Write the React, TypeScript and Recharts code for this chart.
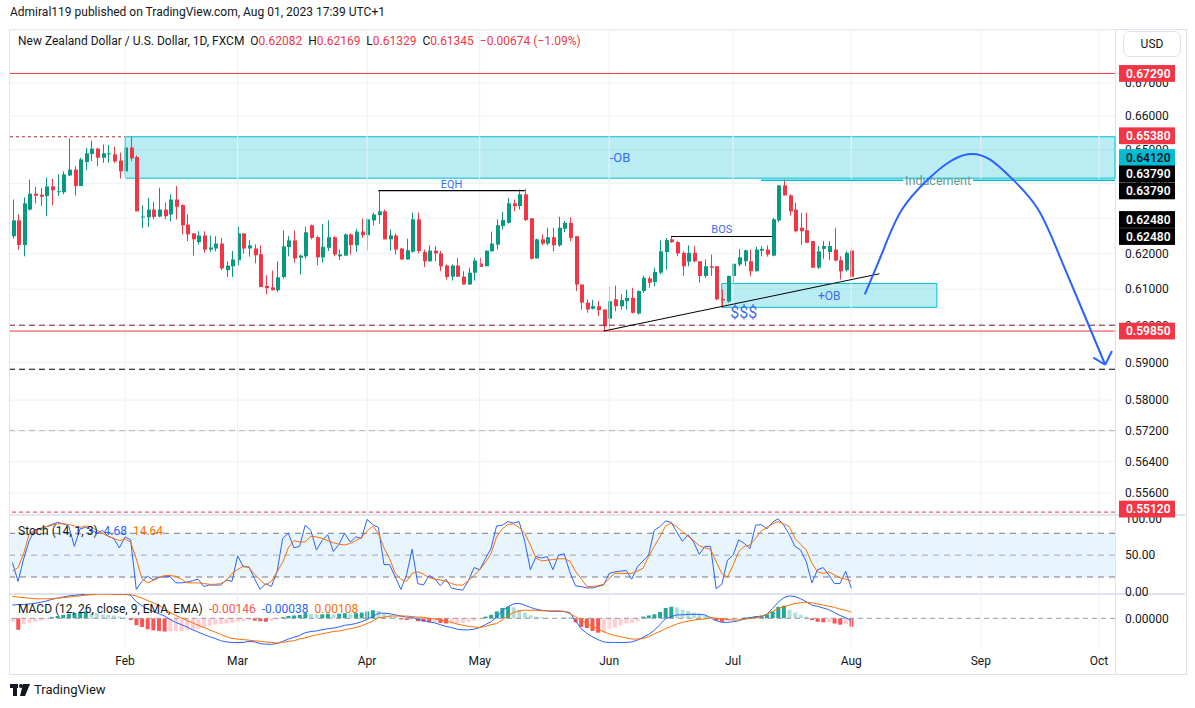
import React from "react"
import {
  ComposedChart,
  Bar,
  Line,
  XAxis,
  YAxis,
  CartesianGrid,
  ReferenceLine,
  ReferenceArea,
  ReferenceDot,
  Cell,
} from "recharts"

// NZDUSD daily candles, Jan 4 2023 .. Aug 1 2023 (index 0..149)
const open = [
  0.6249, 0.6294, 0.6224, 0.6325, 0.6371, 0.6368, 0.6364, 0.6392, 0.6377, 0.6375,
  0.6424, 0.6441, 0.6393, 0.6463, 0.6487, 0.6503, 0.6476, 0.6487, 0.6486, 0.6468,
  0.6436, 0.6506, 0.6478, 0.6303, 0.6303, 0.6325, 0.6305, 0.6325, 0.6311, 0.6354,
  0.6338, 0.6282, 0.6257, 0.6232, 0.6251, 0.6211, 0.6214, 0.6228, 0.6153, 0.6164,
  0.6181, 0.6257, 0.6214, 0.6214, 0.6198, 0.6109, 0.6105, 0.6097, 0.6134, 0.6218,
  0.6237, 0.6188, 0.6192, 0.628, 0.6246, 0.6189, 0.6216, 0.6246, 0.6192, 0.6194,
  0.6254, 0.6223, 0.6262, 0.6252, 0.6294, 0.6309, 0.632, 0.624, 0.6251, 0.6214,
  0.6183, 0.6205, 0.6297, 0.6204, 0.6178, 0.6208, 0.62, 0.6166, 0.6135, 0.6166,
  0.6135, 0.6113, 0.6146, 0.6172, 0.6164, 0.6206, 0.6225, 0.6278, 0.6287, 0.6343,
  0.6335, 0.6369, 0.63, 0.6186, 0.624, 0.6228, 0.6246, 0.6223, 0.627, 0.6287,
  0.6249, 0.6113, 0.6063, 0.6046, 0.6053, 0.6044, 0.6019, 0.6072, 0.6053, 0.6067,
  0.6076, 0.6033, 0.6095, 0.613, 0.612, 0.6146, 0.6204, 0.624, 0.6232, 0.6202,
  0.6177, 0.6202, 0.6178, 0.6137, 0.6164, 0.6164, 0.6073, 0.6066, 0.6137, 0.6169,
  0.6178, 0.6178, 0.615, 0.6208, 0.6211, 0.6194, 0.6294, 0.6395, 0.6366, 0.6325,
  0.6273, 0.6266, 0.6235, 0.616, 0.6213, 0.6204, 0.6211, 0.6181, 0.6153, 0.62082,
]
const high = [
  0.6354, 0.6311, 0.636, 0.6412, 0.6391, 0.6388, 0.6418, 0.6414, 0.6427, 0.6436,
  0.6533, 0.6451, 0.6476, 0.6505, 0.6527, 0.6505, 0.6515, 0.6514, 0.6508, 0.6491,
  0.6538, 0.6538, 0.6483, 0.6337, 0.6359, 0.6348, 0.6388, 0.6345, 0.6369, 0.6393,
  0.634, 0.6311, 0.6257, 0.6263, 0.6263, 0.6251, 0.6249, 0.6244, 0.6178, 0.6207,
  0.6276, 0.6257, 0.6238, 0.6226, 0.6223, 0.6139, 0.6152, 0.6178, 0.6265, 0.6249,
  0.6265, 0.6197, 0.6276, 0.6282, 0.6251, 0.6284, 0.6294, 0.6249, 0.6211, 0.6257,
  0.6257, 0.627, 0.6299, 0.63, 0.6316, 0.638, 0.6325, 0.6268, 0.6257, 0.6216,
  0.6242, 0.6316, 0.6316, 0.6211, 0.6223, 0.6221, 0.6207, 0.6169, 0.6169, 0.6188,
  0.615, 0.616, 0.6188, 0.6188, 0.6208, 0.6262, 0.6297, 0.6318, 0.6359, 0.6354,
  0.6383, 0.6385, 0.63, 0.6242, 0.6254, 0.6273, 0.6273, 0.6304, 0.6292, 0.6303,
  0.6249, 0.6113, 0.6072, 0.607, 0.6067, 0.6044, 0.6108, 0.611, 0.6086, 0.6099,
  0.6104, 0.6097, 0.6138, 0.6136, 0.616, 0.6237, 0.6244, 0.6249, 0.6235, 0.6206,
  0.6223, 0.6221, 0.6178, 0.6183, 0.6197, 0.6164, 0.6099, 0.6138, 0.6171, 0.6213,
  0.6211, 0.6211, 0.6219, 0.6221, 0.6223, 0.6301, 0.6395, 0.6412, 0.6369, 0.6345,
  0.6316, 0.6316, 0.6235, 0.6221, 0.6235, 0.6235, 0.6273, 0.6192, 0.6206, 0.62169,
]
const low = [
  0.6242, 0.6211, 0.6192, 0.6322, 0.6343, 0.6335, 0.6306, 0.6337, 0.6364, 0.6369,
  0.6422, 0.6366, 0.6393, 0.6439, 0.6466, 0.6451, 0.6461, 0.6461, 0.6461, 0.6415,
  0.6436, 0.6466, 0.632, 0.6272, 0.6275, 0.6297, 0.6303, 0.6297, 0.6292, 0.6297,
  0.6254, 0.6235, 0.6194, 0.6225, 0.6202, 0.6204, 0.6206, 0.6153, 0.6134, 0.6134,
  0.6167, 0.62, 0.6191, 0.6172, 0.6106, 0.6086, 0.6097, 0.6092, 0.613, 0.6192,
  0.6174, 0.6141, 0.6185, 0.624, 0.6167, 0.6174, 0.6207, 0.6192, 0.6181, 0.6194,
  0.6197, 0.6204, 0.6244, 0.6208, 0.628, 0.6285, 0.624, 0.6208, 0.6197, 0.6183,
  0.6183, 0.6202, 0.62, 0.6162, 0.6177, 0.6178, 0.615, 0.6127, 0.6124, 0.6134,
  0.6113, 0.6113, 0.6124, 0.6162, 0.6164, 0.6206, 0.6211, 0.6268, 0.6285, 0.632,
  0.6325, 0.6292, 0.6183, 0.6186, 0.6223, 0.6223, 0.6206, 0.6219, 0.626, 0.6235,
  0.6095, 0.6044, 0.6035, 0.6044, 0.6026, 0.5985, 0.5989, 0.6039, 0.6044, 0.6044,
  0.6033, 0.603, 0.609, 0.6104, 0.6108, 0.6141, 0.6155, 0.623, 0.6192, 0.6137,
  0.6164, 0.6175, 0.6118, 0.6132, 0.6137, 0.607, 0.6049, 0.6063, 0.6113, 0.6164,
  0.6164, 0.6136, 0.615, 0.6192, 0.6191, 0.6192, 0.6289, 0.6366, 0.6308, 0.626,
  0.6225, 0.623, 0.616, 0.6157, 0.6185, 0.6181, 0.6178, 0.6127, 0.615, 0.61329,
]
const close = [
  0.6294, 0.6224, 0.6343, 0.6371, 0.6365, 0.6362, 0.6392, 0.6381, 0.6378, 0.6427,
  0.6441, 0.6393, 0.6471, 0.6489, 0.6503, 0.6476, 0.6489, 0.6489, 0.6465, 0.6436,
  0.6506, 0.6474, 0.632, 0.6305, 0.6325, 0.6304, 0.6325, 0.6306, 0.6354, 0.6333,
  0.628, 0.6254, 0.624, 0.6251, 0.6211, 0.6217, 0.6228, 0.6158, 0.6166, 0.6183,
  0.6257, 0.6214, 0.6223, 0.6195, 0.6106, 0.6103, 0.6097, 0.6133, 0.622, 0.6237,
  0.6186, 0.6194, 0.626, 0.6244, 0.6189, 0.6219, 0.6246, 0.6197, 0.6197, 0.6254,
  0.6224, 0.6262, 0.6252, 0.6297, 0.6311, 0.632, 0.624, 0.6251, 0.6211, 0.6183,
  0.6209, 0.6297, 0.6207, 0.6178, 0.6208, 0.62, 0.6164, 0.6134, 0.6166, 0.6135,
  0.6113, 0.6146, 0.618, 0.6162, 0.6208, 0.6228, 0.628, 0.6295, 0.6343, 0.6335,
  0.6369, 0.6295, 0.6185, 0.624, 0.6228, 0.6246, 0.6223, 0.6273, 0.6287, 0.6244,
  0.6113, 0.6063, 0.6044, 0.6053, 0.6042, 0.5998, 0.6067, 0.6053, 0.607, 0.6076,
  0.6035, 0.6095, 0.6132, 0.6118, 0.6148, 0.6206, 0.6238, 0.6232, 0.62, 0.6164,
  0.6202, 0.6178, 0.6137, 0.6164, 0.616, 0.6072, 0.6069, 0.6137, 0.6171, 0.6189,
  0.6209, 0.615, 0.6211, 0.6213, 0.6197, 0.6297, 0.6395, 0.6366, 0.632, 0.6263,
  0.6263, 0.623, 0.616, 0.6206, 0.6221, 0.6221, 0.618, 0.615, 0.6202, 0.61345,
]

// Stochastic (14, 1, 3)
const stochK = [
  40, 14, 45, 70, 85, 86, 89, 92, 95, 93, 90, 62, 86, 88, 85, 80, 84, 76, 73, 60,
  75, 71, 3, 14, 21, 16, 20, 20, 21, 12, 12, 13, 15, 17, 7, 9, 9, 9, 16, 14,
  49, 34, 34, 18, 3, 11, 7, 27, 73, 80, 60, 62, 91, 84, 57, 70, 78, 55, 65, 80,
  68, 75, 73, 99, 92, 88, 37, 37, 20, 3, 23, 58, 11, 9, 22, 18, 8, 17, 5, 3,
  2, 15, 33, 30, 45, 59, 90, 91, 96, 94, 96, 69, 30, 48, 46, 48, 30, 50, 52, 27,
  8, 7, 5, 5, 7, 9, 25, 27, 28, 29, 17, 34, 42, 50, 84, 89, 97, 95, 82, 69,
  78, 68, 51, 62, 62, 4, 10, 43, 50, 71, 66, 59, 91, 92, 86, 95, 100, 91, 78, 62,
  57, 41, 12, 30, 33, 23, 11, 11, 28, 4.68,
]
const stochD = [
  28, 33, 52, 80, 84, 87, 89, 91, 93, 93, 92, 90, 88, 90, 89, 84, 80, 76, 73, 70,
  72, 68, 45, 18, 12, 15, 19, 22, 22, 21, 17, 12, 12, 12, 11, 10, 10, 11, 15, 25,
  30, 35, 33, 24, 16, 9, 14, 27, 40, 60, 70, 68, 68, 76, 75, 73, 70, 67, 65, 64,
  66, 70, 74, 83, 90, 80, 60, 45, 25, 17, 14, 25, 27, 24, 19, 17, 16, 14, 11, 9,
  9, 15, 22, 30, 40, 52, 75, 86, 92, 93, 88, 80, 64, 46, 42, 43, 44, 45, 45, 42,
  28, 18, 7, 7, 8, 10, 18, 25, 25, 25, 25, 28, 32, 48, 62, 75, 90, 94, 89, 82,
  76, 70, 63, 60, 58, 41, 25, 20, 36, 55, 62, 64, 73, 83, 88, 93, 96, 93, 89, 73,
  65, 57, 39, 27, 25, 27, 23, 19, 17, 14.64,
]

// MACD (12, 26, close, 9)
const macdLine = [
  0.0023, 0.0024, 0.0024, 0.0025, 0.0026, 0.0028, 0.003, 0.0033, 0.0035, 0.0037,
  0.0039, 0.004, 0.0041, 0.0042, 0.0042, 0.0043, 0.0043, 0.0043, 0.0042, 0.0042,
  0.0042, 0.004, 0.0029, 0.0022, 0.0016, 0.0012, 0.0008, 0.0004, -0.0002, -0.0007,
  -0.0011, -0.0015, -0.002, -0.0024, -0.0028, -0.0032, -0.0035, -0.0039, -0.0041, -0.0042,
  -0.0042, -0.0042, -0.004, -0.0041, -0.0044, -0.0045, -0.0045, -0.0044, -0.004, -0.0036,
  -0.0033, -0.003, -0.0025, -0.0023, -0.0022, -0.002, -0.0018, -0.0017, -0.0015, -0.0012,
  -0.0011, -0.0009, -0.0006, -0.0002, 0.0003, 0.0009, 0.0009, 0.0008, 0.0006, 0.0004,
  0.0002, 0.0002, -0.0002, -0.0004, -0.0006, -0.0008, -0.0011, -0.0014, -0.0016, -0.0019,
  -0.002, -0.002, -0.0019, -0.0016, -0.0011, -0.0006, 0.0002, 0.0013, 0.002, 0.0025,
  0.0026, 0.0023, 0.0019, 0.0016, 0.0014, 0.0013, 0.0012, 0.0012, 0.0012, 0.001,
  -0.0004, -0.0018, -0.0026, -0.0032, -0.0037, -0.0041, -0.0042, -0.0042, -0.0042, -0.0042,
  -0.0041, -0.0038, -0.0033, -0.0028, -0.0021, -0.0011, -0.0001, 0.0003, 0.0006, 0.0006,
  0.0007, 0.0007, 0.0007, 0.0006, 0.0001, -0.0004, -0.0007, -0.0007, -0.0006, -0.0004,
  0.0, 0.0001, 0.0003, 0.0003, 0.0007, 0.0017, 0.0028, 0.0036, 0.0039, 0.0038,
  0.0034, 0.0029, 0.0023, 0.0021, 0.0018, 0.0015, 0.001, 0.0005, 0.0001, -0.00038,
]
const signalLine = [
  0.0038, 0.0037, 0.0036, 0.0035, 0.0034, 0.0034, 0.0034, 0.0034, 0.0035, 0.0036,
  0.0037, 0.0038, 0.0039, 0.004, 0.0041, 0.0042, 0.0042, 0.0042, 0.0042, 0.0042,
  0.0042, 0.0041, 0.0039, 0.0035, 0.0031, 0.0027, 0.0023, 0.0017, 0.001, 0.0005,
  0.0001, -0.0004, -0.0008, -0.0012, -0.0016, -0.002, -0.0024, -0.0028, -0.0032, -0.0035,
  -0.0036, -0.0037, -0.0038, -0.0039, -0.004, -0.0041, -0.0042, -0.0043, -0.0042, -0.004,
  -0.0039, -0.0036, -0.0034, -0.0031, -0.0029, -0.0027, -0.0025, -0.0023, -0.0022, -0.002,
  -0.0018, -0.0016, -0.0013, -0.0009, -0.0005, 0.0001, 0.0002, 0.0004, 0.0004, 0.0004,
  0.0004, 0.0003, 0.0002, 0.0002, 0.0, -0.0001, -0.0003, -0.0005, -0.0007, -0.001,
  -0.0012, -0.0014, -0.0015, -0.0016, -0.0014, -0.0011, -0.0009, -0.0003, 0.0005, 0.001,
  0.0013, 0.0014, 0.0014, 0.0014, 0.0013, 0.0013, 0.0013, 0.0013, 0.0012, 0.0008,
  0.0003, -0.0003, -0.0009, -0.0014, -0.0019, -0.0023, -0.0027, -0.003, -0.0032, -0.0034,
  -0.0036, -0.0036, -0.0035, -0.0032, -0.0027, -0.0023, -0.0018, -0.0014, -0.001, -0.0007,
  -0.0005, -0.0003, -0.0002, -0.0001, 0.0001, 0.0, -0.0001, -0.0002, -0.0003, -0.0003,
  -0.0002, 0.0, 0.0001, 0.0003, 0.0007, 0.0012, 0.0017, 0.002, 0.0023, 0.0026,
  0.0027, 0.0028, 0.0027, 0.0025, 0.0023, 0.0021, 0.0019, 0.0016, 0.0014, 0.00108,
]
const macdHist = [
  -0.0006, -0.002, -0.001, -0.0008, -0.0006, -0.0004, -0.0002, 0.0002, 0.0004, 0.0006,
  0.0008, 0.0009, 0.001, 0.0012, 0.001, 0.0009, 0.0007, 0.0006, 0.0005, 0.0003,
  0.0002, -0.0003, -0.0012, -0.0015, -0.0019, -0.0021, -0.0022, -0.0023, -0.0023, -0.0022,
  -0.0022, -0.002, -0.002, -0.0018, -0.0017, -0.0013, -0.0011, -0.001, -0.0009, -0.0008,
  -0.0006, -0.0005, -0.0003, -0.0004, -0.0005, -0.0006, -0.0004, -0.0002, 0.0002, 0.0004,
  0.0005, 0.0006, 0.0009, 0.0008, 0.0007, 0.0007, 0.0008, 0.0007, 0.0008, 0.0009,
  0.0008, 0.0009, 0.001, 0.0012, 0.0014, 0.0013, 0.0008, 0.0005, 0.0003, -0.0002,
  -0.0003, -0.0002, -0.0005, -0.0006, -0.0007, -0.0007, -0.0008, -0.0009, -0.0009, -0.0009,
  -0.0008, -0.0006, -0.0004, -0.0002, 0.0003, 0.0006, 0.0012, 0.0018, 0.002, 0.0019,
  0.0015, 0.001, 0.0005, 0.0003, 0.0002, 0.0001, 0.0, 0.0, 0.0001, 0.0001,
  -0.0007, -0.0015, -0.0017, -0.0022, -0.0025, -0.0025, -0.0018, -0.0016, -0.0012, -0.0009,
  -0.0008, -0.0005, 0.0003, 0.0005, 0.0007, 0.0011, 0.0018, 0.002, 0.0019, 0.0015,
  0.0013, 0.001, 0.0008, 0.0005, 0.0003, -0.0004, -0.0006, -0.0005, -0.0003, -0.0001,
  0.0001, 0.0002, 0.0003, 0.0005, 0.0007, 0.0012, 0.002, 0.0022, 0.0015, 0.001,
  0.0006, 0.0003, -0.0003, -0.0006, -0.0007, -0.0007, -0.0009, -0.0011, -0.001, -0.00146,
]

const monthTicks = [20, 40, 63, 83, 106, 128, 149, 172, 193]
const monthLabels = ["Feb", "Mar", "Apr", "May", "Jun", "Jul", "Aug", "Sep", "Oct"]
const priceTicks = [0.556, 0.564, 0.572, 0.58, 0.59, 0.6, 0.61, 0.62, 0.63, 0.64, 0.65, 0.66, 0.67]

// projected path drawn on the chart (bar index, price)
const arcIdx = [151.4, 154.6, 158.0, 162.6, 166.0, 169.7, 173.6, 177.7, 182.2, 186.1, 190.0, 194.1]
const arcPrice = [0.6086, 0.6206, 0.6325, 0.6412, 0.6459, 0.6486, 0.6471, 0.6412, 0.6325, 0.6189, 0.6044, 0.5894]

const X_DOMAIN: [number, number] = [-0.43, 195.84]
const Y_DOMAIN: [number, number] = [0.55072, 0.68633]
const X_END = 195.84
const GREEN = "#089981"
const RED = "#f23645"
const BLUE = "#2962ff"
const ORANGE = "#ff6d00"
const NOTE = "#3b6cf0"
const CYAN = "#00bcd4"
const GRID = "#eef0f3"
const TEXT = "#131722"
const FONT = "Roboto, 'Noto Sans', sans-serif"

const candles = open.map((o, i) => ({ i, range: [low[i], high[i]], o, h: high[i], l: low[i], c: close[i] }))
const arcData = arcIdx.map((i, k) => ({ i, p: arcPrice[k] }))
const oscData = stochK.map((k, i) => ({
  i,
  k,
  d: stochD[i],
  macd: macdLine[i],
  signal: signalLine[i],
  hist: macdHist[i],
}))

function Candle(props: any) {
  const { x, y, width, height, payload } = props
  const { o, h, l, c } = payload
  const span = Math.log(h) - Math.log(l)
  const yOf = (p: number) => (span > 0 ? y + (height * (Math.log(h) - Math.log(p))) / span : y)
  const color = c >= o ? GREEN : RED
  const top = yOf(Math.max(o, c))
  const bot = yOf(Math.min(o, c))
  const px = Math.round(x + width / 2)
  return (
    <g>
      <line x1={px + 0.5} x2={px + 0.5} y1={y} y2={y + height} stroke={color} strokeWidth={1} />
      <rect x={px - 1} y={top} width={4} height={Math.max(bot - top, 1)} fill={color} />
    </g>
  )
}

const tag = (bg: string, fg: string, text: string, dy = 0) => (props: any) => {
  const vb = props.viewBox
  const x = vb.x + vb.width
  const y = vb.y + dy
  return (
    <g>
      <rect x={x + 4} y={y - 8.4} width={56} height={16.8} fill={bg} />
      <text x={x + 11} y={y + 4.4} fill={fg} fontSize={12} fontWeight={600} fontFamily={FONT}>
        {text}
      </text>
    </g>
  )
}

const inducementLabel = (props: any) => {
  const vb = props.viewBox
  const cx = vb.x + vb.width / 2
  const y = vb.y
  return (
    <g>
      <rect x={cx - 35} y={y - 1} width={70} height={2.5} fill="#fff" />
      <text x={cx} y={y + 4.5} textAnchor="middle" fill="#5a9e96" fontSize={12.5} fontFamily={FONT}>
        Inducement
      </text>
    </g>
  )
}

const axisTick = { fontSize: 12, fill: TEXT, fontFamily: FONT }

export default function App() {
  return (
    <div style={{ position: "absolute", left: 0, top: 0, width: 1195, height: 708, background: "#fff", fontFamily: FONT, color: TEXT }}>
      <style>{`.recharts-surface{overflow:visible}`}</style>

      <div style={{ position: "absolute", left: 10, top: 5, fontSize: 12 }}>
        Admiral119 published on TradingView.com, Aug 01, 2023 17:39 UTC+1
      </div>

      {/* outer frame and separators */}
      <div style={{ position: "absolute", left: 9, top: 29, width: 1176, height: 644, border: "1px solid #e0e3eb" }} />
      <div style={{ position: "absolute", left: 1115, top: 30, width: 1, height: 644, background: "#e0e3eb" }} />
      <div style={{ position: "absolute", left: 10, top: 514, width: 1175, height: 2, background: "#e0e3eb" }} />
      <div style={{ position: "absolute", left: 10, top: 593, width: 1175, height: 2, background: "#e0e3eb" }} />

      {/* price pane */}
      <div style={{ position: "absolute", left: 10, top: 30, zIndex: 2 }}>
        <ComposedChart width={1175} height={484} data={candles} margin={{ top: 0, right: 0, bottom: 0, left: 0 }}>
          <XAxis dataKey="i" type="number" domain={X_DOMAIN} hide allowDataOverflow />
          <YAxis
            orientation="right"
            width={70}
            scale="log"
            domain={Y_DOMAIN}
            allowDataOverflow
            ticks={priceTicks}
            interval={0}
            tickFormatter={(v: number) => v.toFixed(5)}
            tick={axisTick}
            tickLine={false}
            axisLine={false}
            tickMargin={4}
          />
          <CartesianGrid vertical={false} stroke={GRID} />
          {monthTicks.map((t) => (
            <ReferenceLine key={"g" + t} x={t} stroke={GRID} />
          ))}

          <ReferenceLine y={0.6729} stroke={RED} />
          <ReferenceLine segment={[{ x: X_DOMAIN[0], y: 0.6538 }, { x: 20, y: 0.6538 }]} stroke="#b0283a" strokeDasharray="3 3" />
          <ReferenceArea
            x1={20}
            x2={X_END}
            y1={0.6416}
            y2={0.6538}
            fill={CYAN}
            fillOpacity={0.27}
            stroke={CYAN}
            strokeWidth={1}
            ifOverflow="visible"
            label={{ value: "-OB", position: "center", fill: NOTE, fontSize: 13, fontFamily: FONT }}
          />
          <ReferenceLine
            segment={[{ x: 133, y: 0.641 }, { x: X_END, y: 0.641 }]}
            stroke={CYAN}
            strokeWidth={1.5}
            ifOverflow="visible"
            label={inducementLabel}
          />
          <ReferenceLine
            segment={[{ x: 65, y: 0.638 }, { x: 91, y: 0.638 }]}
            stroke="#000"
            strokeWidth={1.2}
            label={{ value: "EQH", position: "top", offset: 3, fill: NOTE, fontSize: 11, fontFamily: FONT }}
          />
          <ReferenceLine
            segment={[{ x: 117, y: 0.6248 }, { x: 135, y: 0.6248 }]}
            stroke="#000"
            strokeWidth={1.2}
            label={{ value: "BOS", position: "top", offset: 4, fill: NOTE, fontSize: 11, fontFamily: FONT }}
          />

          <ReferenceLine y={0.6001} stroke="#7b1f2a" strokeDasharray="6 4" />
          <ReferenceLine y={0.5985} stroke={RED} />
          <ReferenceLine y={0.5882} stroke="#000" strokeDasharray="6 4" />
          <ReferenceLine y={0.572} stroke="#b2b5be" strokeDasharray="6 4" />
          <ReferenceLine y={0.5512} stroke={RED} strokeDasharray="4 3" />

          <ReferenceArea
            x1={126}
            x2={164.2}
            y1={0.605}
            y2={0.6116}
            fill={CYAN}
            fillOpacity={0.27}
            stroke={CYAN}
            strokeWidth={1}
            label={{ value: "+OB", position: "center", fill: NOTE, fontSize: 12, fontFamily: FONT }}
          />
          <ReferenceDot
            x={129.9}
            y={0.6036}
            r={0}
            fill="none"
            stroke="none"
            label={{ value: "$$$", position: "center", fill: NOTE, fontSize: 16, fontFamily: FONT }}
          />

          <Bar dataKey="range" barSize={4} shape={<Candle />} isAnimationActive={false} />

          <ReferenceLine segment={[{ x: 105, y: 0.5985 }, { x: 154, y: 0.6143 }]} stroke="#000" strokeWidth={1} />

          <Line
            data={arcData}
            dataKey="p"
            type="natural"
            stroke={BLUE}
            strokeWidth={2}
            dot={false}
            isAnimationActive={false}
          />
          <ReferenceLine segment={[{ x: 192.0, y: 0.5913 }, { x: 194.1, y: 0.5894 }]} stroke={BLUE} strokeWidth={2} ifOverflow="visible" />
          <ReferenceLine segment={[{ x: 195.3, y: 0.5931 }, { x: 194.1, y: 0.5894 }]} stroke={BLUE} strokeWidth={2} ifOverflow="visible" />
        </ComposedChart>
      </div>

      {/* price tags on the axis, drawn above the tick labels */}
      <div style={{ position: "absolute", left: 10, top: 30, zIndex: 3 }}>
        <ComposedChart width={1175} height={484} data={candles} margin={{ top: 0, right: 0, bottom: 0, left: 0 }}>
          <XAxis dataKey="i" type="number" domain={X_DOMAIN} hide allowDataOverflow />
          <YAxis orientation="right" width={70} scale="log" domain={Y_DOMAIN} allowDataOverflow tick={false} tickLine={false} axisLine={false} />
          <ReferenceLine y={0.6729} stroke="none" label={tag(RED, "#fff", "0.67290")} />
          <ReferenceLine y={0.6538} stroke="none" label={tag(RED, "#fff", "0.65380", -1)} />
          <ReferenceLine y={0.6412} stroke="none" label={tag(CYAN, TEXT, "0.64120", -22)} />
          <ReferenceLine y={0.6379} stroke="none" label={tag("#000", "#fff", "0.63790", -17)} />
          <ReferenceLine y={0.6379} stroke="none" label={tag("#000", "#fff", "0.63790", 0)} />
          <ReferenceLine y={0.6248} stroke="none" label={tag("#000", "#fff", "0.62480", -17)} />
          <ReferenceLine y={0.6248} stroke="none" label={tag("#000", "#fff", "0.62480", 0)} />
          <ReferenceLine y={0.5985} stroke="none" label={tag(RED, "#fff", "0.59850")} />
          <ReferenceLine y={0.5512} stroke="none" label={tag(RED, "#fff", "0.55120", -3)} />
        </ComposedChart>
      </div>

      <div style={{ position: "absolute", left: 18, top: 34, zIndex: 4, fontSize: 12, whiteSpace: "nowrap" }}>
        New Zealand Dollar / U.S. Dollar, 1D, FXCM&nbsp;&nbsp;O<span style={{ color: RED }}>0.62082</span>&nbsp;&nbsp;H
        <span style={{ color: RED }}>0.62169</span>&nbsp;&nbsp;L<span style={{ color: RED }}>0.61329</span>&nbsp;&nbsp;C
        <span style={{ color: RED }}>0.61345</span>&nbsp;&nbsp;<span style={{ color: RED }}>−0.00674 (−1.09%)</span>
      </div>
      <div
        style={{
          position: "absolute",
          left: 1123,
          top: 31,
          width: 56,
          height: 24,
          border: "1px solid #e0e3eb",
          borderRadius: 6,
          fontSize: 12,
          lineHeight: "24px",
          textAlign: "center",
          background: "#fff",
          zIndex: 4,
        }}
      >
        USD
      </div>

      {/* stochastic pane */}
      <div style={{ position: "absolute", left: 10, top: 516, zIndex: 1 }}>
        <ComposedChart width={1175} height={78} data={oscData} margin={{ top: 0, right: 0, bottom: 0, left: 0 }}>
          <XAxis dataKey="i" type="number" domain={X_DOMAIN} hide allowDataOverflow />
          <YAxis
            orientation="right"
            width={70}
            domain={[-3.3, 103.7]}
            allowDataOverflow
            ticks={[0, 50, 100]}
            interval={0}
            tickFormatter={(v: number) => v.toFixed(2)}
            tick={axisTick}
            tickLine={false}
            axisLine={false}
            tickMargin={4}
          />
          {monthTicks.map((t) => (
            <ReferenceLine key={"s" + t} x={t} stroke={GRID} />
          ))}
          <ReferenceArea y1={20} y2={80} fill="#2196f3" fillOpacity={0.1} stroke="none" />
          <ReferenceLine y={80} stroke="#787b86" strokeDasharray="6 5" />
          <ReferenceLine y={50} stroke="#a3a6af" strokeDasharray="6 5" />
          <ReferenceLine y={20} stroke="#787b86" strokeDasharray="6 5" />
          <Line dataKey="k" type="linear" stroke={BLUE} strokeWidth={1} dot={false} isAnimationActive={false} />
          <Line dataKey="d" type="linear" stroke={ORANGE} strokeWidth={1} dot={false} isAnimationActive={false} />
        </ComposedChart>
      </div>
      <div style={{ position: "absolute", left: 18, top: 524, zIndex: 4, fontSize: 12, whiteSpace: "nowrap" }}>
        Stoch (14, 1, 3)&nbsp;&nbsp;<span style={{ color: BLUE }}>4.68</span>&nbsp;&nbsp;<span style={{ color: ORANGE }}>14.64</span>
      </div>

      {/* MACD pane */}
      <div style={{ position: "absolute", left: 10, top: 594, zIndex: 1 }}>
        <ComposedChart width={1175} height={82} data={oscData} margin={{ top: 0, right: 0, bottom: 0, left: 0 }}>
          <XAxis
            dataKey="i"
            type="number"
            domain={X_DOMAIN}
            allowDataOverflow
            ticks={monthTicks}
            interval={0}
            tickFormatter={(v: number) => monthLabels[monthTicks.indexOf(v)] ?? ""}
            height={26}
            tick={axisTick}
            tickSize={0}
            tickMargin={6}
            tickLine={false}
            axisLine={false}
          />
          <YAxis
            orientation="right"
            width={70}
            domain={[-0.00551, 0.00423]}
            allowDataOverflow
            ticks={[0]}
            interval={0}
            tickFormatter={(v: number) => v.toFixed(5)}
            tick={axisTick}
            tickLine={false}
            axisLine={false}
            tickMargin={4}
          />
          {monthTicks.map((t) => (
            <ReferenceLine key={"m" + t} x={t} stroke={GRID} />
          ))}
          <ReferenceLine y={0} stroke="#9598a1" strokeDasharray="5 4" />
          <Bar dataKey="hist" barSize={4} isAnimationActive={false}>
            {macdHist.map((h, i) => {
              const prev = i > 0 ? macdHist[i - 1] : h
              const fill = h >= 0 ? (h >= prev ? "#26a69a" : "#b2dfdb") : h < prev ? "#ff5252" : "#ffcdd2"
              return <Cell key={i} fill={fill} />
            })}
          </Bar>
          <Line dataKey="macd" type="linear" stroke={BLUE} strokeWidth={1} dot={false} isAnimationActive={false} />
          <Line dataKey="signal" type="linear" stroke={ORANGE} strokeWidth={1} dot={false} isAnimationActive={false} />
        </ComposedChart>
      </div>
      <div style={{ position: "absolute", left: 18, top: 602, zIndex: 4, fontSize: 12, whiteSpace: "nowrap" }}>
        MACD (12, 26, close, 9, EMA, EMA)&nbsp;&nbsp;<span style={{ color: "#ff5252" }}>-0.00146</span>&nbsp;&nbsp;
        <span style={{ color: BLUE }}>-0.00038</span>&nbsp;&nbsp;<span style={{ color: ORANGE }}>0.00108</span>
      </div>

      {/* footer logo */}
      <div style={{ position: "absolute", left: 10, top: 682, display: "flex", alignItems: "center", gap: 4, fontSize: 13 }}>
        <svg width={20} height={12}>
          <rect x={0} y={0} width={8} height={4} fill={TEXT} />
          <rect x={3} y={0} width={4} height={12} fill={TEXT} />
          <circle cx={11} cy={2} r={2} fill={TEXT} />
          <polygon points="13,0 20,0 15,12 10,12" fill={TEXT} />
        </svg>
        <span>TradingView</span>
      </div>
    </div>
  )
}
